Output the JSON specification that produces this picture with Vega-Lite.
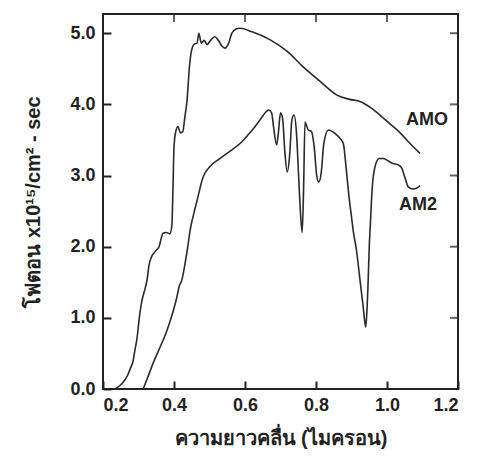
{
  "$schema": "https://vega.github.io/schema/vega-lite/v6.json",
  "width": 355,
  "height": 375,
  "autosize": {"type": "none"},
  "padding": {"left": 103, "top": 14, "right": 19, "bottom": 73},
  "background": "white",
  "config": {
    "view": {"stroke": "#222", "strokeWidth": 2},
    "font": "Liberation Sans"
  },
  "datasets": {
    "curves": [
      {"s": "AM0", "x": 0.234, "y": 0}, {"s": "AM0", "x": 0.25, "y": 0.06}, {"s": "AM0", "x": 0.262, "y": 0.13},
      {"s": "AM0", "x": 0.27, "y": 0.2}, {"s": "AM0", "x": 0.278, "y": 0.3}, {"s": "AM0", "x": 0.285, "y": 0.4},
      {"s": "AM0", "x": 0.29, "y": 0.55}, {"s": "AM0", "x": 0.296, "y": 0.72}, {"s": "AM0", "x": 0.3, "y": 0.9},
      {"s": "AM0", "x": 0.304, "y": 1.07}, {"s": "AM0", "x": 0.31, "y": 1.25}, {"s": "AM0", "x": 0.318, "y": 1.4},
      {"s": "AM0", "x": 0.324, "y": 1.53}, {"s": "AM0", "x": 0.33, "y": 1.75}, {"s": "AM0", "x": 0.336, "y": 1.85},
      {"s": "AM0", "x": 0.345, "y": 1.92}, {"s": "AM0", "x": 0.352, "y": 1.96}, {"s": "AM0", "x": 0.358, "y": 2.0},
      {"s": "AM0", "x": 0.364, "y": 2.12}, {"s": "AM0", "x": 0.369, "y": 2.19}, {"s": "AM0", "x": 0.378, "y": 2.2},
      {"s": "AM0", "x": 0.388, "y": 2.18}, {"s": "AM0", "x": 0.394, "y": 2.3}, {"s": "AM0", "x": 0.397, "y": 2.8},
      {"s": "AM0", "x": 0.4, "y": 3.4}, {"s": "AM0", "x": 0.405, "y": 3.62}, {"s": "AM0", "x": 0.411, "y": 3.69},
      {"s": "AM0", "x": 0.418, "y": 3.6}, {"s": "AM0", "x": 0.425, "y": 3.62}, {"s": "AM0", "x": 0.43, "y": 3.8},
      {"s": "AM0", "x": 0.437, "y": 4.07}, {"s": "AM0", "x": 0.443, "y": 4.5}, {"s": "AM0", "x": 0.45, "y": 4.77},
      {"s": "AM0", "x": 0.458, "y": 4.85}, {"s": "AM0", "x": 0.465, "y": 4.86}, {"s": "AM0", "x": 0.47, "y": 5.0},
      {"s": "AM0", "x": 0.477, "y": 4.86}, {"s": "AM0", "x": 0.485, "y": 4.9}, {"s": "AM0", "x": 0.493, "y": 4.84},
      {"s": "AM0", "x": 0.503, "y": 4.9}, {"s": "AM0", "x": 0.515, "y": 4.95}, {"s": "AM0", "x": 0.525, "y": 4.9},
      {"s": "AM0", "x": 0.535, "y": 4.82}, {"s": "AM0", "x": 0.544, "y": 4.79}, {"s": "AM0", "x": 0.553, "y": 4.85},
      {"s": "AM0", "x": 0.563, "y": 5.0}, {"s": "AM0", "x": 0.575, "y": 5.06}, {"s": "AM0", "x": 0.586, "y": 5.07},
      {"s": "AM0", "x": 0.62, "y": 5.02}, {"s": "AM0", "x": 0.67, "y": 4.91}, {"s": "AM0", "x": 0.72, "y": 4.74},
      {"s": "AM0", "x": 0.763, "y": 4.53}, {"s": "AM0", "x": 0.81, "y": 4.33}, {"s": "AM0", "x": 0.859, "y": 4.13},
      {"s": "AM0", "x": 0.895, "y": 4.07}, {"s": "AM0", "x": 0.924, "y": 4.04}, {"s": "AM0", "x": 0.955, "y": 3.95},
      {"s": "AM0", "x": 0.98, "y": 3.85}, {"s": "AM0", "x": 1.01, "y": 3.72}, {"s": "AM0", "x": 1.037, "y": 3.6},
      {"s": "AM0", "x": 1.065, "y": 3.45}, {"s": "AM0", "x": 1.093, "y": 3.31},
      {"s": "AM2", "x": 0.313, "y": 0}, {"s": "AM2", "x": 0.325, "y": 0.15}, {"s": "AM2", "x": 0.341, "y": 0.36},
      {"s": "AM2", "x": 0.36, "y": 0.58}, {"s": "AM2", "x": 0.38, "y": 0.82}, {"s": "AM2", "x": 0.395, "y": 1.05},
      {"s": "AM2", "x": 0.408, "y": 1.29}, {"s": "AM2", "x": 0.415, "y": 1.45}, {"s": "AM2", "x": 0.422, "y": 1.53},
      {"s": "AM2", "x": 0.431, "y": 1.76}, {"s": "AM2", "x": 0.44, "y": 2.04}, {"s": "AM2", "x": 0.445, "y": 2.22},
      {"s": "AM2", "x": 0.455, "y": 2.45}, {"s": "AM2", "x": 0.465, "y": 2.65}, {"s": "AM2", "x": 0.482, "y": 2.98},
      {"s": "AM2", "x": 0.5, "y": 3.12}, {"s": "AM2", "x": 0.53, "y": 3.24}, {"s": "AM2", "x": 0.56, "y": 3.35},
      {"s": "AM2", "x": 0.586, "y": 3.45}, {"s": "AM2", "x": 0.61, "y": 3.58}, {"s": "AM2", "x": 0.627, "y": 3.68},
      {"s": "AM2", "x": 0.645, "y": 3.8}, {"s": "AM2", "x": 0.66, "y": 3.9}, {"s": "AM2", "x": 0.666, "y": 3.92},
      {"s": "AM2", "x": 0.675, "y": 3.88}, {"s": "AM2", "x": 0.68, "y": 3.7}, {"s": "AM2", "x": 0.689, "y": 3.43},
      {"s": "AM2", "x": 0.694, "y": 3.6}, {"s": "AM2", "x": 0.7, "y": 3.88}, {"s": "AM2", "x": 0.706, "y": 3.8},
      {"s": "AM2", "x": 0.712, "y": 3.35}, {"s": "AM2", "x": 0.719, "y": 3.05}, {"s": "AM2", "x": 0.726, "y": 3.3},
      {"s": "AM2", "x": 0.732, "y": 3.78}, {"s": "AM2", "x": 0.738, "y": 3.85}, {"s": "AM2", "x": 0.745, "y": 3.6},
      {"s": "AM2", "x": 0.751, "y": 3.0}, {"s": "AM2", "x": 0.756, "y": 2.5}, {"s": "AM2", "x": 0.761, "y": 2.2},
      {"s": "AM2", "x": 0.765, "y": 2.8}, {"s": "AM2", "x": 0.769, "y": 3.75}, {"s": "AM2", "x": 0.778, "y": 3.64},
      {"s": "AM2", "x": 0.787, "y": 3.62}, {"s": "AM2", "x": 0.795, "y": 3.4}, {"s": "AM2", "x": 0.802, "y": 3.0},
      {"s": "AM2", "x": 0.808, "y": 2.91}, {"s": "AM2", "x": 0.815, "y": 3.05}, {"s": "AM2", "x": 0.822, "y": 3.45},
      {"s": "AM2", "x": 0.835, "y": 3.64}, {"s": "AM2", "x": 0.854, "y": 3.59}, {"s": "AM2", "x": 0.868, "y": 3.52},
      {"s": "AM2", "x": 0.877, "y": 3.45}, {"s": "AM2", "x": 0.885, "y": 3.1}, {"s": "AM2", "x": 0.893, "y": 2.7},
      {"s": "AM2", "x": 0.9, "y": 2.42}, {"s": "AM2", "x": 0.905, "y": 2.22}, {"s": "AM2", "x": 0.914, "y": 1.95},
      {"s": "AM2", "x": 0.924, "y": 1.53}, {"s": "AM2", "x": 0.933, "y": 1.15}, {"s": "AM2", "x": 0.94, "y": 0.87},
      {"s": "AM2", "x": 0.943, "y": 1.06}, {"s": "AM2", "x": 0.947, "y": 1.53}, {"s": "AM2", "x": 0.95, "y": 2.0},
      {"s": "AM2", "x": 0.953, "y": 2.3}, {"s": "AM2", "x": 0.958, "y": 2.8}, {"s": "AM2", "x": 0.966, "y": 3.12},
      {"s": "AM2", "x": 0.978, "y": 3.24}, {"s": "AM2", "x": 0.99, "y": 3.24}, {"s": "AM2", "x": 1.005, "y": 3.2},
      {"s": "AM2", "x": 1.017, "y": 3.17}, {"s": "AM2", "x": 1.032, "y": 3.15}, {"s": "AM2", "x": 1.042, "y": 3.1},
      {"s": "AM2", "x": 1.05, "y": 2.98}, {"s": "AM2", "x": 1.06, "y": 2.84}, {"s": "AM2", "x": 1.073, "y": 2.81},
      {"s": "AM2", "x": 1.083, "y": 2.82}, {"s": "AM2", "x": 1.093, "y": 2.86}
    ],
    "labels": [
      {"label": "AMO", "x": 1.113, "y": 3.78},
      {"label": "AM2", "x": 1.087, "y": 2.58}
    ],
    "xticks": [{"tx": 0.4}, {"tx": 0.6}, {"tx": 0.8}, {"tx": 1.0}],
    "yticks": [{"ty": 1}, {"ty": 2}, {"ty": 3}, {"ty": 4}, {"ty": 5}]
  },
  "layer": [
    {
      "data": {"name": "curves"},
      "mark": {"type": "line", "color": "#2a2a2a", "strokeWidth": 1.6, "interpolate": "monotone"},
      "encoding": {
        "x": {
          "field": "x", "type": "quantitative",
          "scale": {"domain": [0.2, 1.2], "nice": false, "zero": false},
          "axis": {
            "values": [0.2, 0.4, 0.6, 0.8, 1.0, 1.2], "format": ".1f",
            "domainOpacity": 0, "gridOpacity": 0, "zindex": 1,
            "tickSize": 8, "offset": -8, "tickColor": "#222", "tickWidth": 2,
            "labelPadding": 7, "labelFont": "Liberation Sans", "labelFontWeight": "bold", "labelFontSize": 18, "labelColor": "#222",
            "title": "ความยาวคลื่น (ไมครอน)", "titlePadding": 14,
            "titleFont": "Liberation Sans", "titleFontWeight": "bold", "titleFontSize": 20, "titleColor": "#222"
          }
        },
        "y": {
          "field": "y", "type": "quantitative",
          "scale": {"domain": [0, 5.27], "nice": false},
          "axis": {
            "values": [0, 1, 2, 3, 4, 5],
            "domainOpacity": 0, "gridOpacity": 0, "zindex": 1,
            "tickSize": 8, "offset": -8, "tickColor": "#222", "tickWidth": 2,
            "labelPadding": 8, "labelFont": "Liberation Sans", "labelFontWeight": "bold", "labelFontSize": 18, "labelColor": "#222",
            "title": "โฟตอน x10¹⁵/cm² - sec", "titlePadding": 26,
            "titleFont": "Liberation Sans", "titleFontWeight": "bold", "titleFontSize": 20, "titleColor": "#222"
          }
        },
        "detail": {"field": "s", "type": "nominal"}
      }
    },
    {
      "data": {"name": "xticks"},
      "mark": {"type": "tick", "orient": "vertical", "size": 8, "thickness": 2, "yOffset": 4, "color": "#222"},
      "encoding": {
        "x": {"field": "tx", "type": "quantitative"},
        "y": {"datum": 5.27, "type": "quantitative"}
      }
    },
    {
      "data": {"name": "yticks"},
      "mark": {"type": "tick", "orient": "horizontal", "size": 8, "thickness": 2, "xOffset": -4, "color": "#222"},
      "encoding": {
        "x": {"datum": 1.2, "type": "quantitative"},
        "y": {"field": "ty", "type": "quantitative"}
      }
    },
    {
      "data": {"name": "labels"},
      "mark": {"type": "text", "font": "Liberation Sans", "fontWeight": "bold", "fontSize": 18, "color": "#222", "align": "center", "baseline": "middle"},
      "encoding": {
        "x": {"field": "x", "type": "quantitative"},
        "y": {"field": "y", "type": "quantitative"},
        "text": {"field": "label"}
      }
    }
  ]
}
